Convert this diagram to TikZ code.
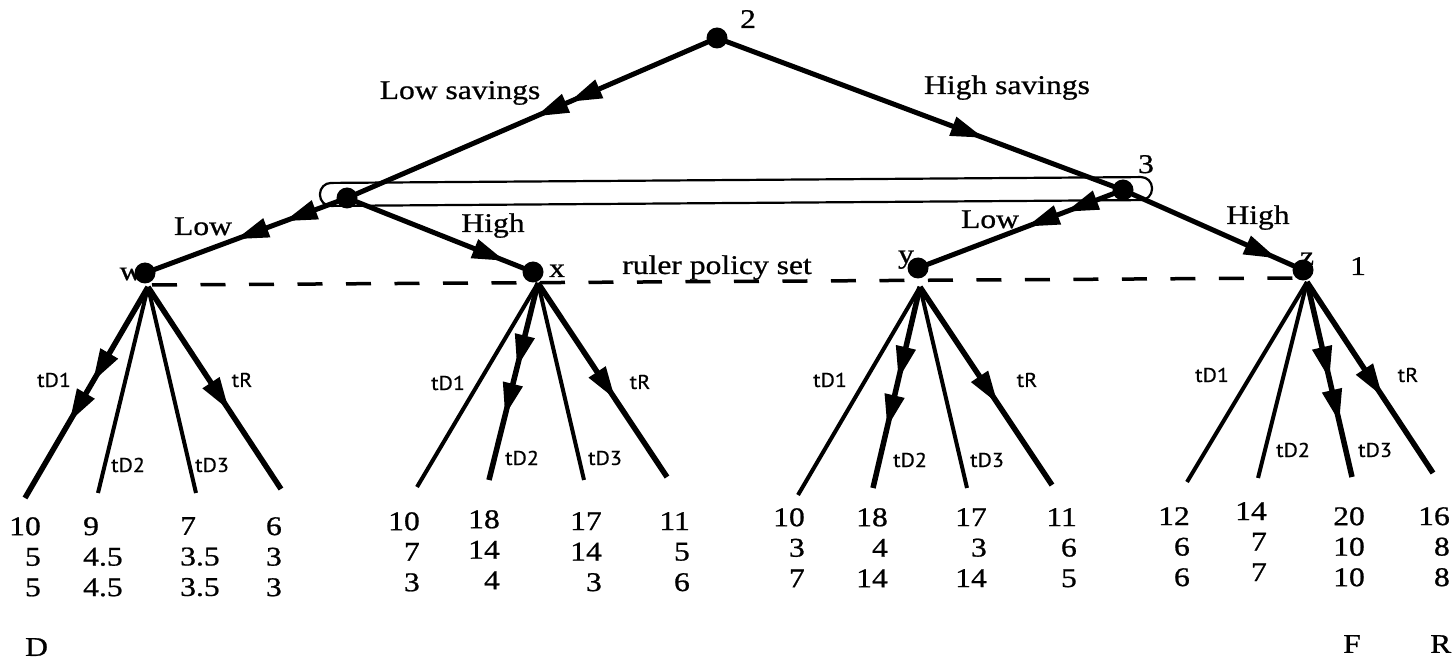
\documentclass[tikz,border=0pt]{standalone}
\usepackage{fontspec}
\setmainfont{Liberation Serif}[FakeStretch=1.17,FakeBold=0.8]
\newfontfamily\tdf{PT Sans}[FakeStretch=1.1,FakeBold=0.5]
\usetikzlibrary{arrows.meta,decorations.markings}
\begin{document}
\begin{tikzpicture}[x=1pt,y=-1pt,
  >={Triangle[length=33pt,width=19pt]},
  dot/.style={circle,fill,inner sep=0pt,minimum size=21pt},
  edgeT/.style={line width=5pt},
  edgeA/.style={line width=5.5pt},
  edgeP/.style={line width=4pt},
  ar1/.style={postaction={decorate},decoration={markings,mark=at position #1 with {\arrow{>}}}},
  ar2/.style n args={2}{postaction={decorate},decoration={markings,mark=at position #1 with {\arrow{>}},mark=at position #2 with {\arrow{>}}}},
  lab/.style={font=\fontsize{27}{30}\selectfont,inner sep=0pt},
  pay/.style={font=\fontsize{27}{30.5}\selectfont,inner sep=0pt,align=right,anchor=north east},
  payl/.style={font=\fontsize{27}{30.5}\selectfont,inner sep=0pt,align=left,anchor=north west},
  td/.style={font=\tdf\fontsize{20}{22}\selectfont,inner sep=0pt},
]
\useasboundingbox (0,0) rectangle (1452,660);

% coordinates of decision points
\coordinate (rc) at (717,38);
\coordinate (Lc) at (347,198);
\coordinate (Rc) at (1123,190);
\coordinate (wc) at (145,273);
\coordinate (xc) at (533,272);
\coordinate (yc) at (918,268);
\coordinate (zc) at (1303,270);

% information set oval
\draw[line width=2.2pt, rounded corners=11pt] (320,183) -- (1152,177) -- (1152,200) -- (320,206) -- cycle;

% ruler policy set dashed line
\coordinate (dl) at (152,285);
\coordinate (dr) at (1298,278);
\draw[line width=3.5pt, dash pattern=on 25pt off 23.5pt] (dl) -- (dr);

% top edges
\draw[edgeT, ar2={0.40}{0.49}] (rc) -- (Lc);
\draw[edgeT, ar1=0.657] (rc) -- (Rc);
\draw[edgeT, ar2={0.31}{0.55}] (Lc) -- (wc);
\draw[edgeT, ar1=0.85] (Lc) -- (xc);
\draw[edgeT, ar2={0.28}{0.47}] (Rc) -- (yc);
\draw[edgeT, ar1=0.855] (Rc) -- (zc);

% apexes and leaves
\coordinate (wa) at (148,287);
\coordinate (xa) at (538,283);
\coordinate (ya) at (920,287);
\coordinate (za) at (1307,282);
\coordinate (w1) at (25,498);  \coordinate (w2) at (98,493);  \coordinate (w3) at (196,493);  \coordinate (w4) at (281,489);
\coordinate (x1) at (417,487); \coordinate (x2) at (489,480); \coordinate (x3) at (584,480);  \coordinate (x4) at (667,477);
\coordinate (y1) at (798,495); \coordinate (y2) at (873,488); \coordinate (y3) at (967,488);  \coordinate (y4) at (1052,485);
\coordinate (z1) at (1187,482);\coordinate (z2) at (1258,478);\coordinate (z3) at (1352,477); \coordinate (z4) at (1433,473);

\draw[edgeA, ar2={0.45}{0.64}] (wa) -- (w1);
\draw[edgeP] (wa) -- (w2);
\draw[edgeP] (wa) -- (w3);
\draw[edgeA, ar1=0.61] (wa) -- (w4);

\draw[edgeP] (xa) -- (x1);
\draw[edgeA, ar2={0.43}{0.675}] (xa) -- (x2);
\draw[edgeP] (xa) -- (x3);
\draw[edgeA, ar1=0.60] (xa) -- (x4);

\draw[edgeP] (ya) -- (y1);
\draw[edgeA, ar2={0.46}{0.70}] (ya) -- (y2);
\draw[edgeP] (ya) -- (y3);
\draw[edgeA, ar1=0.59] (ya) -- (y4);

\draw[edgeP] (za) -- (z1);
\draw[edgeP] (za) -- (z2);
\draw[edgeA, ar2={0.50}{0.72}] (za) -- (z3);
\draw[edgeA, ar1=0.60] (za) -- (z4);

% labels
\node[lab,anchor=base] (ls) at (460,99) {Low savings};
\node[lab,anchor=base] (hs) at (1007,94) {High savings};
\node[lab,anchor=base] (lo1) at (203,235) {Low};
\node[lab,anchor=base] (hi1) at (493,232) {High};
\node[lab,anchor=base] (lo2) at (990,228) {Low};
\node[lab,anchor=base] (hi2) at (1258,224) {High};
\node[lab,anchor=base] (rps) at (717,274) {ruler policy set};
\node[lab,anchor=base] (n2) at (748,28) {2};
\node[lab,anchor=base] (n3) at (1146,173) {3};
\node[lab,anchor=base] (n1) at (1358,275) {1};
\node[lab,anchor=base] (lw) at (131,280) {w};
\node[lab,anchor=base] (lx) at (557,277) {x};
\node[lab,anchor=base] (ly) at (906,263) {y};
\node[lab,anchor=base] (lz) at (1307,265) {z};

% dots
\node[dot] (r) at (rc) {};
\node[dot] (L) at (Lc) {};
\node[dot] (R) at (Rc) {};
\node[dot] (w) at (wc) {};
\node[dot] (x) at (xc) {};
\node[dot] (y) at (yc) {};
\node[dot] (z) at (zc) {};

% branch labels
\node[td] (wt1) at (54,380) {tD1};
\node[td] (wt2) at (128,465) {tD2};
\node[td] (wt3) at (212,465) {tD3};
\node[td] (wt4) at (242,380) {tR};
\node[td] (xt1) at (448,383) {tD1};
\node[td] (xt2) at (522,458) {tD2};
\node[td] (xt3) at (605,458) {tD3};
\node[td] (xt4) at (640,382) {tR};
\node[td] (yt1) at (830,380) {tD1};
\node[td] (yt2) at (910,460) {tD2};
\node[td] (yt3) at (987,460) {tD3};
\node[td] (yt4) at (1027,380) {tR};
\node[td] (zt1) at (1212,375) {tD1};
\node[td] (zt2) at (1293,450) {tD2};
\node[td] (zt3) at (1375,450) {tD3};
\node[td] (zt4) at (1408,375) {tR};

% payoffs
\node[pay]  (pw1) at (41,517) {10\\5\\5};
\node[payl] (pw2) at (83,517) {9\\4.5\\4.5};
\node[payl] (pw3) at (180,517) {7\\3.5\\3.5};
\node[pay]  (pw4) at (282,517) {6\\3\\3};
\node[pay]  (px1) at (420,512) {10\\7\\3};
\node[pay]  (px2) at (500,510) {18\\14\\4};
\node[pay]  (px3) at (602,512) {17\\14\\3};
\node[pay]  (px4) at (690,512) {11\\5\\6};
\node[pay]  (py1) at (805,508) {10\\3\\7};
\node[pay]  (py2) at (888,508) {18\\4\\14};
\node[pay]  (py3) at (987,508) {17\\3\\14};
\node[pay]  (py4) at (1077,508) {11\\6\\5};
\node[pay]  (pz1) at (1190,507) {12\\6\\6};
\node[pay]  (pz2) at (1267,502) {14\\7\\7};
\node[pay]  (pz3) at (1365,507) {20\\10\\10};
\node[pay]  (pz4) at (1450,507) {16\\8\\8};

\node[lab,anchor=north west] (D) at (25,638) {D};
\node[lab,anchor=north west] (F) at (1343,635) {F};
\node[lab,anchor=north west] (Rl) at (1430,635) {R};
\end{tikzpicture}
\end{document}
